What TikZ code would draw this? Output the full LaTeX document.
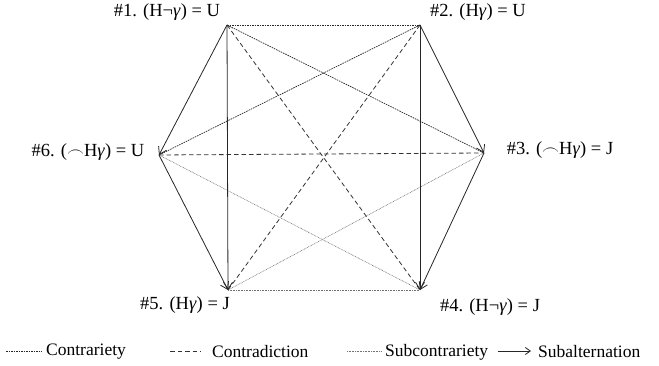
\documentclass[tikz,border=0pt]{standalone}
\usepackage{fontspec}
\setmainfont{Liberation Serif}
\usetikzlibrary{arrows.meta}
\begin{document}
\begin{tikzpicture}[x=1pt,y=-1pt,
  lbl/.style={font=\fontsize{18.5}{20}\selectfont, inner sep=0pt},
  leg/.style={font=\fontsize{17.5}{19}\selectfont, inner sep=0pt, anchor=west},
  contrar/.style={line width=0.7pt, dash pattern=on 1.6pt off 0.9pt, black!85},
  contrad/.style={line width=0.8pt, dash pattern=on 4.5pt off 3pt, black!80},
  subcon/.style={line width=0.6pt, dash pattern=on 0.8pt off 0.8pt, black!55},
  subalt/.style={line width=0.8pt, black!85, -{Straight Barb[length=7pt,width=9pt]}}]
\useasboundingbox (0,0) rectangle (659,366);
\coordinate (v1) at (227,25);
\coordinate (v2) at (420,25);
\coordinate (v3) at (484,153);
\coordinate (v4) at (420,290);
\coordinate (v5) at (228,290);
\coordinate (v6) at (159,155);
% labels
\node[lbl] (l1) at (167,12) {\#1. (H¬\textit{γ}) = U};
\node[lbl] (l2) at (478,12) {\#2. (H\textit{γ}) = U};
\node[lbl] (l6) at (88,152) {\#6. ($\frown$H\textit{γ}) = U};
\node[lbl] (l3) at (560,150) {\#3. ($\frown$H\textit{γ}) = J};
\node[lbl] (l5) at (185,305) {\#5. (H\textit{γ}) = J};
\node[lbl] (l4) at (490,307) {\#4. (H¬\textit{γ}) = J};
% contrariety
\draw[contrar] (v1) -- (v2);
\draw[contrar] (v1) -- (v3);
\draw[contrar] (v2) -- (v6);
% contradiction
\draw[contrad] (v1) -- (v4);
\draw[contrad] (v2) -- (v5);
\draw[contrad] (v6) -- (v3);
% subcontrariety
\draw[subcon] (v5) -- (v4);
\draw[subcon] (v6) -- (v4);
\draw[subcon] (v3) -- (v5);
% subalternation
\draw[subalt] (v1) -- (v6);
\draw[subalt] (v1) -- (v5);
\draw[subalt] (v6) -- (v5);
\draw[subalt] (v2) -- (v3);
\draw[subalt] (v2) -- (v4);
\draw[subalt] (v3) -- (v4);
% legend
\coordinate (a1) at (6,351); \coordinate (b1) at (42,351);
\draw[contrar] (a1) -- (b1);
\node[leg] (t1) at (46,352) {Contrariety};
\coordinate (a2) at (170,351); \coordinate (b2) at (201,351);
\draw[contrad] (a2) -- (b2);
\node[leg] (t2) at (212,352) {Contradiction};
\coordinate (a3) at (347,351); \coordinate (b3) at (382,351);
\draw[subcon] (a3) -- (b3);
\node[leg] (t3) at (385,352) {Subcontrariety};
\coordinate (a4) at (498,351); \coordinate (b4) at (531,351);
\draw[line width=0.8pt, black!85, -{Straight Barb[length=5pt,width=7pt]}] (a4) -- (b4);
\node[leg] (t4) at (538,352) {Subalternation};
\end{tikzpicture}
\end{document}
